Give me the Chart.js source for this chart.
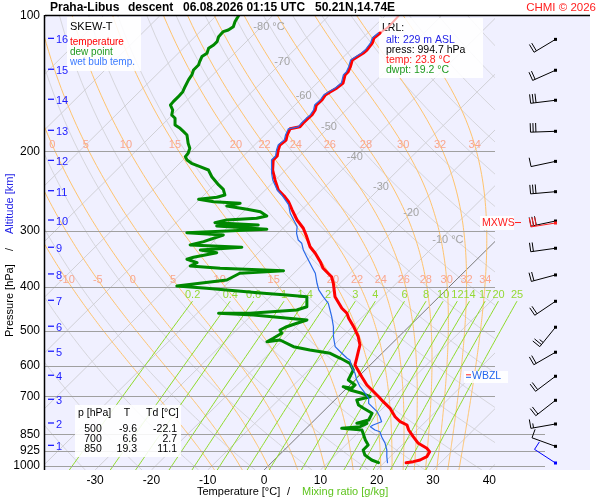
<!DOCTYPE html>
<html><head><meta charset="utf-8">
<script src="https://cdn.jsdelivr.net/npm/chart.js@4.4.1/dist/chart.umd.min.js"></script>
<style>html,body{margin:0;padding:0;background:#fff}canvas{display:block}</style>
</head><body>
<canvas id="c" width="600" height="500"></canvas>
<script>
// ---------- DATA (pressure hPa, temperature °C) ----------
const tempTopP = [100, 105.6, 109.1];
const tempTopT = [-57.6, -57.4, -57.8];
const tempP = [109.1,111.9,114.8,119.0,121.0,123.3,125.2,129.8,133.2,135.2,
  140.9,144.5,147.5,149.8,153.7,157.7,161.8,165.9,168.8,172.9,
  176.3,178.1,183.8,188.6,193.5,198.5,204.7,208.9,219.9,231.4,
  243.6,251.2,258.6,269.6,284.0,296.3,309.3,325.6,336.7,351.5,
  363.6,379.6,392.6,420.5,446.2,457.8,469.6,490.3,516.0,538.4,
  557.2,576.3,596.4,633.2,660.7,677.8,701.5,719.6,744.4,777.1,
  797.2,810.8,831.8,860.8,890.4,913.4,929.3,953.4,969.7,978.1,983.2];
const tempT = [-57.8,-58.0,-57.4,-57.1,-57.2,-57.6,-57.9,-57.0,-56.5,-56.5,
  -55.4,-55.6,-56.1,-56.4,-56.1,-56.2,-55.5,-55.2,-55.3,-55.3,
  -55.2,-56.6,-56.0,-55.3,-55.5,-54.9,-54.0,-54.0,-52.3,-50.1,
  -47.7,-45.6,-43.8,-41.7,-39.0,-36.4,-34.3,-31.9,-29.8,-27.4,
  -25.7,-22.7,-21.2,-18.5,-15.2,-13.4,-12.2,-9.8,-7.2,-5.4,
  -4.5,-3.6,-2.7,0.6,3.0,4.8,7.2,8.9,11.3,13.7,
  15.5,17.3,18.5,20.5,22.6,25.0,26.1,26.5,25.9,25.0,23.9];
const dewP = [100,102.9,105.6,107.4,108.3,111.2,114.0,116.0,118.0,121.0,
  123.1,126.3,128.5,131.8,135.2,138.7,143.6,147.3,151.1,155.0,
  157.7,161.8,165.9,168.8,174.7,177.7,180.7,183.8,191.8,196.8,
  201.9,205.4,208.9,212.5,216.2,219.9,227.6,237.4,242.7,249.9,
  252.8,255.4,258.6,260.7,264.3,268.8,272.2,278.2,281.5,284.0,
  287.9,291.3,292.8,297.8,303.0,306.6,317.3,322.7,326.6,331.1,
  335.7,343.7,347.2,353.3,359.4,363.6,368.1,373.0,386.0,398.1,
  402.8,413.2,416.8,420.5,431.4,442.6,450.1,457.8,457.8,461.8,
  473.7,481.8,490.3,498.6,507.1,520.3,529.4,524.8,543.1,552.4,
  561.8,576.3,581.4,591.3,611.9,644.0,660.7,672.0,666.5,677.8,
  689.4,701.5,713.4,731.9,744.4,763.7,790.3,803.8,803.8,817.9,
  824.6,831.8,853.4,875.5,898.2,921.3,945.2,969.7,983.2];
const dewT = [-86.0,-85.6,-85.0,-85.3,-85.9,-85.8,-85.2,-85.2,-85.5,-84.9,
  -85.2,-84.7,-84.3,-84.3,-83.7,-83.4,-82.8,-82.3,-82.2,-82.2,
  -82.1,-80.8,-80.1,-78.9,-77.7,-76.2,-75.0,-73.8,-72.1,-70.9,
  -70.3,-70.2,-69.3,-67.9,-65.8,-63.7,-61.9,-59.2,-57.6,-56.3,
  -57.3,-60.2,-57.1,-52.1,-54.0,-49.8,-47.0,-45.1,-46.5,-51.5,
  -53.1,-45.0,-52.2,-42.7,-56.3,-49.4,-51.7,-53.5,-43.9,-50.8,
  -47.4,-50.7,-51.5,-49.1,-49.7,-44.0,-32.3,-39.6,-40.7,-48.5,
  -42.8,-31.8,-27.4,-23.5,-22.6,-21.7,-22.9,-30.6,-36.2,-29.7,
  -19.3,-20.5,-21.7,-22.3,-21.4,-22.0,-22.5,-20.5,-16.9,-13.4,
  -9.2,-6.5,-5.6,-3.9,-2.1,-1.2,0.9,0.9,-0.9,0.9,
  3.6,5.7,3.9,5.1,6.6,9.0,9.6,8.1,9.9,9.3,
  6.3,10.2,11.4,12.6,14.0,14.0,15.2,17.3,19.0];
const wbP = [109.1,111.9,114.8,119.0,121.0,123.3,125.2,129.8,133.2,135.2,
  140.9,144.5,147.5,149.8,153.7,157.7,161.8,165.9,168.8,172.9,
  176.3,178.1,183.8,188.6,193.5,198.5,204.7,208.9,223.6,231.4,
  243.6,249.9,256.3,262.9,274.5,284.0,293.8,304.0,314.6,319.9,
  331.1,342.7,360.6,366.8,373.0,392.6,406.2,420.5,435.0,450.1,
  465.8,490.3,516.0,543.1,557.2,576.3,581.4,601.7,622.3,644.0,
  666.5,689.4,707.2,725.6,738.3,757.4,777.1,797.2,810.8,817.9,
  831.8,839.1,860.8,890.4,921.3,953.4,983.2];
const wbT = [-58.1,-58.3,-57.7,-57.4,-57.5,-57.9,-58.2,-57.3,-56.8,-56.8,
  -55.7,-55.9,-56.4,-56.7,-56.4,-56.5,-55.8,-55.5,-55.6,-55.6,
  -55.5,-56.9,-56.3,-55.6,-55.8,-55.2,-54.3,-54.3,-51.9,-50.5,
  -47.9,-46.2,-44.7,-43.2,-41.4,-39.6,-37.8,-36.7,-35.2,-34.0,
  -32.5,-30.7,-28.0,-27.1,-26.2,-24.1,-22.6,-20.6,-18.5,-17.0,
  -15.5,-13.4,-11.6,-9.5,-7.7,-5.3,-4.5,-3.0,-1.2,0.3,
  2.1,4.2,5.7,6.6,7.8,9.6,11.0,12.2,11.3,11.1,
  12.5,13.7,14.9,16.7,18.2,19.4,20.6];
// winds (surface first), direction ° and speed kt
const windP = [984.8,904.3,806.6,714.5,631.8,558.7,491.6,430.5,376.2,328.2,285.5,245.7,210.4,180.4,153.9,132.0,112.7];
const windDir = [303,290,260,232,233,240,219,236,255,262,258,265,258,268,263,246,239];
const windSpd = [10,10,15,20,20,20,25,20,20,20,30,30,10,30,30,20,20];
const mxwsIndex = 10;
// altitude marks
const altKm = [1,2,3,4,5,6,7,8,9,10,11,12,13,14,15,16];
const altP = [904.3,806.6,714.5,631.8,558.7,491.6,430.5,376.2,328.2,285.5,245.7,210.4,180.4,153.9,132.0,112.7];
const wbzlP = 632;
// ticks
const pressureTicks = [100,200,300,400,500,600,700,850,925,1000];
const tempTicks = [-30,-20,-10,0,10,20,30,40];
// diagram furniture
const isothermLabels = ['-80 °C','-70','-60','-50','-40','-30','-20','-10 °C'];
const isothermLabelT = [-80,-70,-60,-50,-40,-30,-20,-10];
const isothermLabelP = [105.7,126.5,150.9,176.5,206,240,274,314.6];
const moistThetaW = [-10,-5,0,5,10,15,20,22,24,26,28,30,32,34];
const moistLabelsTop = [0,5,10,15,20,22,24,26,28,30,32,34];
const moistLabelsMid = [-10,-5,0,5,10,15,20,22,24,26,28,30,32,34];
const mixRatios = [0.2,0.4,0.6,1,1.4,2,3,4,6,8,10,12,14,17,20,25];
const mixLabels = ['0.2','0.4','0.6','1','1.4','2','3','4','6','8','10','12','14','17','20','25'];
const tableRows = [['500','-9.6','-22.1'],['700','6.6','2.7'],['850','19.3','11.1']];
const lrlLines = [['LRL:','#000'],['alt: 229 m ASL','#2323e6'],['press: 994.7 hPa','#000'],['temp: 23.8 °C','#ff1a1a'],['dwpt: 19.2 °C','#1f9a1f']];

// ---------- helpers ----------
const K = 80.73, P0 = 1020.7;
const sx = (T, p) => T + K * Math.log10(P0 / p);
const mk = (P, T) => P.map((p, i) => ({x: sx(T[i], p), y: p}));
const FF = '"Liberation Sans", Arial, sans-serif';

function dTdp(Tc, p) {
  const T = Tc + 273.15, e = 6.112 * Math.exp(17.67 * Tc / (Tc + 243.5)), r = 0.622 * e / (p - e);
  const Lv = 2.501e6, Rd = 287.04, Cp = 1005.7, eps = 0.622;
  return (Rd * T + Lv * r) / (p * (Cp + Lv * Lv * r * eps / (Rd * T * T)));
}
function moistCurve(tw, pEnd, step) {
  const out = [[1000, tw]];
  let T = tw, p = 1000;
  const n = Math.ceil(Math.abs(pEnd - 1000) / step), h = (pEnd - 1000) / n;
  for (let i = 0; i < n; i++) {
    const k1 = dTdp(T, p), k2 = dTdp(T + h / 2 * k1, p + h / 2), k3 = dTdp(T + h / 2 * k2, p + h / 2), k4 = dTdp(T + h * k3, p + h);
    T += h / 6 * (k1 + 2 * k2 + 2 * k3 + k4); p += h; out.push([p, T]);
  }
  return out;
}
function tdFromW(w, p) { const e = w * p / (622 + w); const l = Math.log(e / 6.112); return 243.5 * l / (17.67 - l); }

function barb(ctx, x0, y0, dir, spd, color) {
  const r = dir * Math.PI / 180, dx = Math.sin(r), dy = -Math.cos(r);
  const L = 25, ex = x0 + dx * L, ey = y0 + dy * L, px = -dy, py = dx;
  ctx.strokeStyle = color; ctx.fillStyle = color; ctx.lineWidth = 1;
  ctx.beginPath(); ctx.moveTo(x0, y0); ctx.lineTo(ex, ey);
  let s = Math.round(spd / 5) * 5, k = 0;
  while (s >= 10) { const bx = ex - dx * k * 2.7, by = ey - dy * k * 2.7; ctx.moveTo(bx, by); ctx.lineTo(bx + px * 9, by + py * 9); s -= 10; k++; }
  if (s >= 5) { const bx = ex - dx * k * 2.7, by = ey - dy * k * 2.7; ctx.moveTo(bx, by); ctx.lineTo(bx + px * 4.5, by + py * 4.5); }
  ctx.stroke();
  ctx.fillRect(x0 - 1.5, y0 - 1.5, 3, 3);
}

const furniture = {
  id: 'furniture',
  beforeDraw(chart) {
    const ctx = chart.ctx, xs = chart.scales.x, ys = chart.scales.y, a = chart.chartArea;
    const X = (T, p) => xs.getPixelForValue(sx(T, p)), Y = p => ys.getPixelForValue(p);
    const line = (pts) => { ctx.beginPath(); pts.forEach((q, i) => { const x = X(q[1], q[0]), y = Y(q[0]); i ? ctx.lineTo(x, y) : ctx.moveTo(x, y); }); ctx.stroke(); };
    ctx.save();
    ctx.fillStyle = '#ffffff'; ctx.fillRect(0, 0, 600, 500);
    ctx.fillStyle = '#f0f0ff'; ctx.fillRect(a.left, a.top, 590 - a.left, a.bottom - a.top);
    ctx.save();
    ctx.beginPath(); ctx.rect(a.left, a.top, a.right - a.left, a.bottom - a.top); ctx.clip();
    ctx.lineWidth = 1;
    // dry adiabats
    ctx.strokeStyle = '#d6d6dc';
    for (let th = 230; th <= 470; th += 10) {
      const pts = []; for (let p = P0; p >= 99; p -= 10) pts.push([p, th * Math.pow(p / 1000, 0.2857) - 273.15]);
      pts.push([100, th * Math.pow(0.1, 0.2857) - 273.15]);
      line(pts);
    }
    // isotherms
    for (let T = -130; T <= 40; T += 10) {
      ctx.strokeStyle = T === 0 ? '#7a7a7a' : '#d0d0d6';
      line([[P0, T], [100, T]]);
    }
    // moist adiabats
    ctx.strokeStyle = '#ffc46e';
    moistThetaW.forEach(tw => {
      const up = moistCurve(tw, 100, 5), dn = moistCurve(tw, P0, 5);
      line(dn.reverse().concat(up.slice(1)));
    });
    ctx.restore();
    // mixing ratio lines (may run past the right edge)
    ctx.save();
    ctx.beginPath(); ctx.rect(a.left, a.top, 590 - a.left, a.bottom - a.top); ctx.clip();
    ctx.strokeStyle = '#8fdb2a'; ctx.lineWidth = 1;
    mixRatios.forEach(w => { const pts = []; for (let p = P0; p >= 430; p -= 10) pts.push([p, tdFromW(w, p)]); pts.push([430, tdFromW(w, 430)]); line(pts); });
    ctx.restore();
    // isobars
    ctx.strokeStyle = '#a0a0a0'; ctx.lineWidth = 1;
    pressureTicks.forEach(p => {
      if (p === 100) return;
      const y = Math.round(Y(p)) + 0.5;
      ctx.beginPath(); ctx.moveTo(a.left, y); ctx.lineTo(p >= 850 ? 545 : a.right, y); ctx.stroke();
    });
    // labels
    ctx.textBaseline = 'middle';
    ctx.font = '11px ' + FF; ctx.fillStyle = '#a4a4a4'; ctx.textAlign = 'left';
    isothermLabels.forEach((s, i) => {
      const num = s.split(' ')[0];
      const x = X(isothermLabelT[i], isothermLabelP[i]) - ctx.measureText(num).width / 2;
      ctx.fillText(s, x, Y(isothermLabelP[i]));
    });
    ctx.fillStyle = '#f9a68e'; ctx.textAlign = 'center';
    const pTop = 193.5, pMid = 386;
    moistLabelsTop.forEach(tw => { const c = moistCurve(tw, pTop, 5); ctx.fillText(String(tw), X(c[c.length - 1][1], pTop), Y(pTop)); });
    moistLabelsMid.forEach(tw => { const c = moistCurve(tw, pMid, 5); ctx.fillText(String(tw), X(c[c.length - 1][1], pMid), Y(pMid)); });
    ctx.fillStyle = '#95d935';
    mixRatios.forEach((w, i) => ctx.fillText(mixLabels[i], X(tdFromW(w, 430), 430), Y(417)));
    ctx.restore();
  },
  beforeDatasetsDraw(chart) {
    const ctx = chart.ctx, ys = chart.scales.y;
    ctx.save();
    ctx.fillStyle = 'rgba(255,255,255,0.88)';
    ctx.fillRect(67, 17, 74, 54);
    ctx.fillRect(379, 18, 104, 60);
    ctx.fillRect(75, 405, 106, 52);
    ctx.fillRect(464, 371, 44, 12);
    ctx.fillRect(480, 216, 34, 14);
    ctx.textBaseline = 'middle'; ctx.textAlign = 'left';
    ctx.font = '11px ' + FF; ctx.fillStyle = '#000'; ctx.fillText('SKEW-T', 70, 26.5);
    ctx.font = '10px ' + FF;
    ctx.fillStyle = '#ff0000'; ctx.fillText('temperature', 70, 42);
    ctx.fillStyle = '#1f9a1f'; ctx.fillText('dew point', 70, 52);
    ctx.fillStyle = '#3a7aff'; ctx.fillText('wet bulb temp.', 70, 62);
    ctx.font = '10.5px ' + FF;
    lrlLines.forEach((l, i) => { ctx.fillStyle = l[1]; ctx.fillText(l[0], i === 0 ? 382 : 386, i === 0 ? 28.5 : 40 + (i - 1) * 10); });
    // table
    ctx.fillStyle = '#000';
    ctx.fillText('p [hPa]', 78, 413); ctx.textAlign = 'center'; ctx.fillText('T', 127, 413);
    ctx.textAlign = 'left'; ctx.fillText('Td [°C]', 146, 413);
    tableRows.forEach((r, i) => {
      const y = 429.5 + i * 9.8;
      ctx.textAlign = 'center'; ctx.fillText(r[0], 93, y);
      ctx.textAlign = 'right'; ctx.fillText(r[1], 137, y); ctx.fillText(r[2], 177, y);
    });
    // WBZL
    const yw = ys.getPixelForValue(wbzlP);
    ctx.lineWidth = 1;
    ctx.strokeStyle = '#ff2020'; ctx.beginPath(); ctx.moveTo(466, yw - 1.5); ctx.lineTo(471, yw - 1.5); ctx.stroke();
    ctx.strokeStyle = '#2266ee'; ctx.beginPath(); ctx.moveTo(466, yw + 1); ctx.lineTo(471, yw + 1); ctx.stroke();
    ctx.textAlign = 'left'; ctx.fillStyle = '#2266ee'; ctx.fillText('WBZL', 472, yw);
    // MXWS
    const ym = ys.getPixelForValue(windP[mxwsIndex]) + 2;
    ctx.fillStyle = '#ff2020'; ctx.fillText('MXWS', 482, ym);
    ctx.strokeStyle = '#ff2020'; ctx.beginPath(); ctx.moveTo(515, ym - 0.5); ctx.lineTo(521, ym - 0.5); ctx.stroke();
    ctx.restore();
  },
  afterDraw(chart) {
    const ctx = chart.ctx, ys = chart.scales.y, a = chart.chartArea;
    ctx.save();
    // frame
    ctx.strokeStyle = '#000'; ctx.lineWidth = 1.5;
    ctx.beginPath(); ctx.moveTo(a.left, a.top - 0.5); ctx.lineTo(590, a.top - 0.5); ctx.stroke();
    ctx.beginPath(); ctx.moveTo(a.left - 0.5, a.top - 1); ctx.lineTo(a.left - 0.5, a.bottom); ctx.stroke();
    // altitude marks
    ctx.font = '11px ' + FF; ctx.textBaseline = 'middle'; ctx.textAlign = 'left';
    ctx.fillStyle = '#1c1cff'; ctx.strokeStyle = '#1c1cff'; ctx.lineWidth = 1.3;
    altKm.forEach((k, i) => {
      const y = ys.getPixelForValue(altP[i]);
      ctx.beginPath(); ctx.moveTo(48, y - 1); ctx.lineTo(54, y - 1); ctx.stroke();
      ctx.fillText(String(k), 56, y + 1);
    });
    // wind barbs
    windP.forEach((p, i) => {
      const y = ys.getPixelForValue(p);
      barb(ctx, 555.5, y, windDir[i], windSpd[i], i === 0 ? '#0000ff' : '#000');
      if (i === mxwsIndex) barb(ctx, 555.5, y + 2, windDir[i] + 3, windSpd[i], '#ff2020');
    });
    // titles
    ctx.fillStyle = '#000'; ctx.font = 'bold 12px ' + FF;
    [['Praha-Libus', 50], ['descent', 128], ['06.08.2026 01:15 UTC', 183], ['50.21N,14.74E', 315]].forEach(t => ctx.fillText(t[0], t[1], 7.5));
    ctx.font = '11.5px ' + FF; ctx.fillStyle = '#ff2020'; ctx.textAlign = 'right'; ctx.fillText('CHMI © 2026', 596, 8);
    ctx.font = '11px ' + FF; ctx.textAlign = 'left'; ctx.fillStyle = '#000';
    ctx.fillText('Temperature [°C]', 197, 492); ctx.fillText('/', 287, 492);
    ctx.fillStyle = '#5fc41f'; ctx.fillText('Mixing ratio [g/kg]', 302, 492);
    ctx.translate(10, 337); ctx.rotate(-Math.PI / 2);
    ctx.fillStyle = '#000'; ctx.fillText('Pressure [hPa]', 0, 0); ctx.fillText('/', 86, 0);
    ctx.fillStyle = '#2323e6'; ctx.fillText('Altitude [km]', 103, 0);
    ctx.restore();
  }
};

Chart.defaults.font.family = FF;
Chart.defaults.color = '#000';
const ds = (label, P, T, color, w) => ({label, data: mk(P, T), showLine: true, borderColor: color, borderWidth: w,
  pointRadius: 0, pointHoverRadius: 0, fill: false, tension: 0, borderJoinStyle: 'round', borderCapStyle: 'round'});

new Chart(document.getElementById('c'), {
  type: 'scatter',
  data: { datasets: [
    ds('wet bulb temp.', wbP, wbT, '#2a6ae8', 1.2),
    ds('dew point', dewP, dewT, '#008800', 3),
    ds('temperature', tempP, tempT, '#ff0000', 3),
    ds('temperature (upper)', tempTopP, tempTopT, '#ffa8a8', 2)
  ]},
  options: {
    responsive: false, animation: false, devicePixelRatio: 1,
    layout: { padding: { top: 16, right: 105, left: 0, bottom: 0 } },
    plugins: { legend: { display: false }, tooltip: { enabled: false } },
    events: [],
    scales: {
      x: { type: 'linear', min: -38.9, max: 41.0,
        grid: { display: false, drawTicks: false }, border: { display: false },
        ticks: { padding: 3, autoSkip: false, maxRotation: 0, font: { size: 12 }, color: '#000' },
        afterBuildTicks: s => { s.ticks = tempTicks.map(v => ({value: v})); },
        afterFit: s => { s.height = 30; } },
      y: { type: 'logarithmic', reverse: true, min: 100, max: P0,
        grid: { display: false, drawTicks: false }, border: { display: false },
        ticks: { padding: 5, autoSkip: false, font: { size: 12 }, color: '#000', callback: v => String(v) },
        afterBuildTicks: s => { s.ticks = pressureTicks.map(v => ({value: v})); },
        afterFit: s => { s.width = 45; } }
    }
  },
  plugins: [furniture]
});
</script>
</body></html>
